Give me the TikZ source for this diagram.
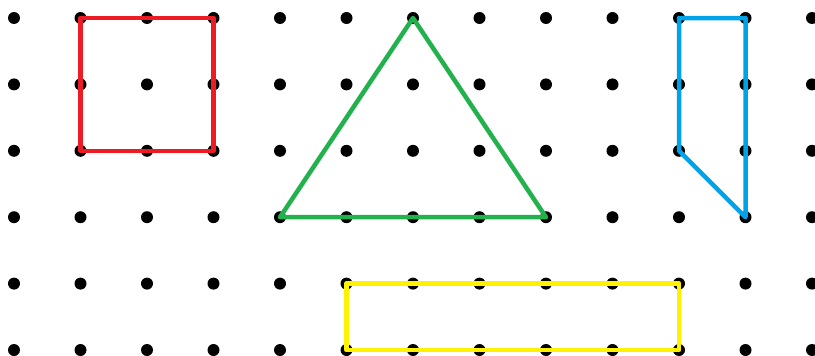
\documentclass[tikz,border=0pt]{standalone}
\definecolor{pred}{RGB}{237,28,36}
\definecolor{pgreen}{RGB}{34,177,76}
\definecolor{pblue}{RGB}{0,162,232}
\definecolor{pyellow}{RGB}{255,242,0}
\tikzset{
  pegdot/.style={fill=black},
  band/.style={line width=4.5pt, line join=round, line cap=round}
}
\begin{document}
\begin{tikzpicture}[x=1pt,y=-1pt]
\useasboundingbox (0,0) rectangle (815,356);
\foreach \i in {0,...,12}{
  \foreach \j in {0,...,5}{
    \coordinate (p-\i-\j) at ({14+66.5*\i},{18+66.4*\j});
    \fill[pegdot] (p-\i-\j) circle (6pt);
  }
}
\draw[band,pred] (p-1-0) -- (p-3-0) -- (p-3-2) -- (p-1-2) -- cycle;
\draw[band,pgreen] (p-4-3) -- (p-6-0) -- (p-8-3) -- cycle;
\draw[band,pblue] (p-10-0) -- (p-11-0) -- (p-11-3) -- (p-10-2) -- cycle;
\draw[band,pyellow] (p-5-4) -- (p-10-4) -- (p-10-5) -- (p-5-5) -- cycle;
\end{tikzpicture}
\end{document}
